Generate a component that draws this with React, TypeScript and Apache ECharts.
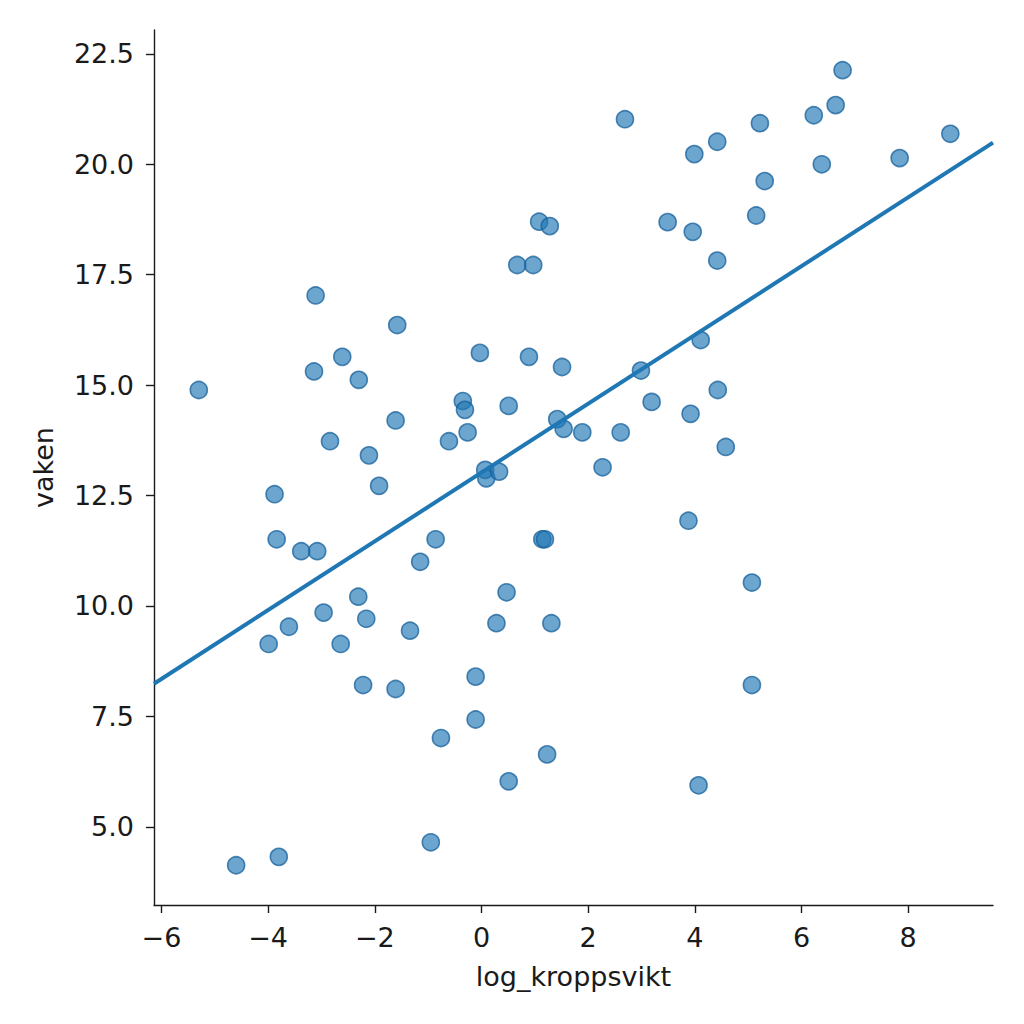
import { useEffect, useRef } from "react"
import * as echarts from "echarts"

// scatter points (log_kroppsvikt, vaken)
const xValues = [
  -3.11, -1.58, 2.69, 3.99, 4.42, 1.08, 1.28, 3.49, 3.96, 4.42, 0.67, 0.97,
  6.77, 6.64, 6.23, 5.22, 8.79, 7.84, 6.38, 5.31, 5.15, -5.3, -3.14, -2.61,
  -2.3, -1.61, -2.84, -2.11, -1.92, -3.88, -3.84, -3.38, -3.08, -0.86, -1.15,
  -2.31, -2.96, -2.16, -3.61, -1.34, -0.03, 0.89, 1.51, 2.99, 4.11, 4.43,
  -0.35, -0.31, 0.51, 3.19, 3.92, 1.42, 1.54, 1.89, 2.61, -0.26, -0.61, 0.07,
  0.09, 0.33, 2.27, 3.88, 1.14, 1.19, 0.47, 0.28, 1.31, 4.58, 5.07, -3.99,
  -2.64, -2.22, -1.61, -0.95, -3.8, -4.6, -0.11, -0.11, -0.76, 1.23, 0.51,
  4.07, 5.07,
]
const yValues = [
  17.03, 16.36, 21.02, 20.23, 20.51, 18.7, 18.6, 18.69, 18.47, 17.82, 17.72,
  17.72, 22.13, 21.34, 21.11, 20.93, 20.69, 20.14, 20.0, 19.62, 18.84, 14.89,
  15.31, 15.64, 15.12, 14.2, 13.73, 13.41, 12.72, 12.53, 11.51, 11.24, 11.24,
  11.51, 11.0, 10.21, 9.85, 9.71, 9.53, 9.44, 15.73, 15.64, 15.41, 15.33,
  16.02, 14.89, 14.64, 14.44, 14.53, 14.62, 14.35, 14.23, 14.01, 13.93, 13.93,
  13.93, 13.73, 13.08, 12.89, 13.04, 13.14, 11.93, 11.51, 11.51, 10.31, 9.61,
  9.61, 13.6, 10.53, 9.14, 9.14, 8.21, 8.12, 4.65, 4.32, 4.13, 8.4, 7.43, 7.01,
  6.64, 6.03, 5.94, 8.21,
]

// fitted line, ends read at the axis limits
const fitX = [-6.14, 9.59]
const fitY = [8.24, 20.49]

const xTicks = [-6, -4, -2, 0, 2, 4, 6, 8]
const yTicks = [5, 7.5, 10, 12.5, 15, 17.5, 20, 22.5]

const FONT = "DejaVu Sans"
const INK = "#1a1a1a"
const BLUE = "#1f77b4"
const FS = 27

export default function App() {
  const chartRef = useRef<HTMLDivElement>(null)

  useEffect(() => {
    if (!chartRef.current) return
    const chart = echarts.init(chartRef.current, undefined, { renderer: "svg" })

    const points = xValues.map((x, i) => [x, yValues[i]])
    const fit = fitX.map((x, i) => [x, fitY[i]])

    const axisLine = { show: true, onZero: false, lineStyle: { color: INK, width: 1.4 } }
    const tickStyle = { color: INK, width: 1.4 }

    chart.setOption({
      animation: false,
      backgroundColor: "#ffffff",
      grid: { left: 154, top: 30, width: 839, height: 875 },
      xAxis: {
        type: "value",
        min: -6.14,
        max: 9.59,
        splitLine: { show: false },
        axisLine,
        name: "log_kroppsvikt",
        nameLocation: "middle",
        nameGap: 58,
        nameTextStyle: { color: INK, fontFamily: FONT, fontSize: FS },
        axisTick: { show: true, customValues: xTicks, length: 8, lineStyle: tickStyle },
        axisLabel: {
          customValues: xTicks,
          color: INK,
          fontFamily: FONT,
          fontSize: FS,
          margin: 19,
          formatter: (v: number) => (v < 0 ? "\u2212" + Math.abs(v) : String(v)),
        },
      },
      yAxis: {
        type: "value",
        min: 3.23,
        max: 23.04,
        splitLine: { show: false },
        axisLine,
        name: "vaken",
        nameLocation: "middle",
        nameGap: 97,
        nameTextStyle: { color: INK, fontFamily: FONT, fontSize: FS },
        axisTick: { show: true, customValues: yTicks, length: 8, lineStyle: tickStyle },
        axisLabel: {
          customValues: yTicks,
          color: INK,
          fontFamily: FONT,
          fontSize: FS,
          margin: 20,
          formatter: (v: number) => v.toFixed(1),
        },
      },
      series: [
        {
          type: "scatter",
          data: points,
          symbol: "circle",
          symbolSize: 17,
          itemStyle: {
            color: "rgba(31,119,180,0.82)",
            borderColor: "rgba(22,96,155,0.95)",
            borderWidth: 1.6,
          },
          z: 2,
        },
        {
          type: "line",
          data: fit,
          showSymbol: false,
          lineStyle: { color: BLUE, width: 4 },
          z: 3,
        },
      ],
    })

    return () => {
      chart.dispose()
    }
  }, [])

  return (
    <div
      ref={chartRef}
      style={{ position: "fixed", left: 0, top: 0, width: "1024px", height: "1024px" }}
    />
  )
}
